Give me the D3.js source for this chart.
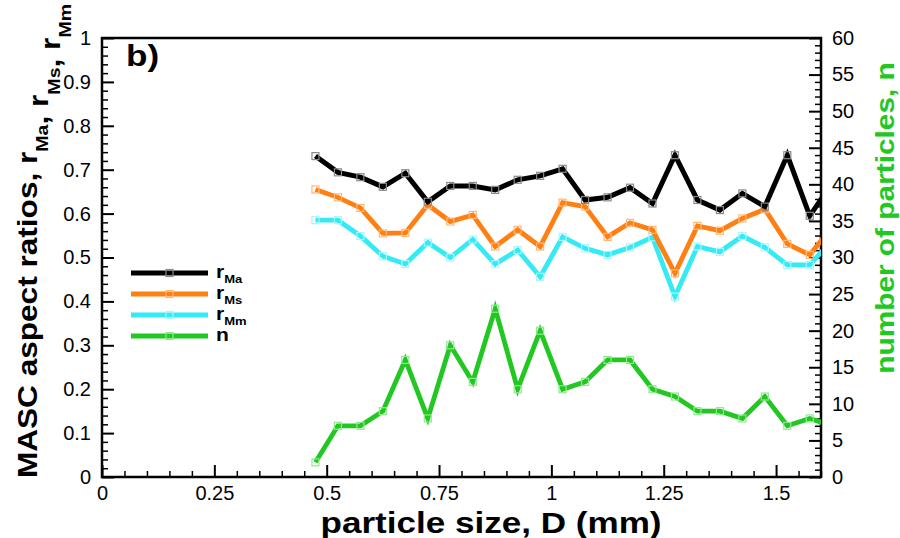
<!DOCTYPE html>
<html>
<head>
<meta charset="utf-8">
<script src="https://cdn.jsdelivr.net/npm/d3@7"></script>
<style>
  body { margin: 0; background: #fff; }
  svg { display: block; }
</style>
</head>
<body>
<script>
// particle size bins (mm)
const sizeD = [0.475, 0.525, 0.575, 0.625, 0.675, 0.725, 0.775, 0.825, 0.875, 0.925, 0.975, 1.025,
               1.075, 1.125, 1.175, 1.225, 1.275, 1.325, 1.375, 1.425, 1.475, 1.525, 1.575, 1.625]
const rMa = [0.731, 0.694, 0.683, 0.661, 0.692, 0.627, 0.663, 0.663, 0.654, 0.677, 0.686, 0.702,
             0.631, 0.637, 0.659, 0.623, 0.733, 0.631, 0.608, 0.646, 0.616, 0.733, 0.595, 0.67]
const rMs = [0.655, 0.637, 0.613, 0.555, 0.556, 0.620, 0.582, 0.597, 0.525, 0.563, 0.525, 0.625,
             0.616, 0.547, 0.579, 0.563, 0.464, 0.572, 0.561, 0.589, 0.610, 0.531, 0.506, 0.57]
const rMm = [0.585, 0.585, 0.549, 0.503, 0.485, 0.534, 0.500, 0.541, 0.485, 0.517, 0.456, 0.547,
             0.521, 0.506, 0.523, 0.546, 0.411, 0.525, 0.513, 0.549, 0.523, 0.483, 0.483, 0.54]
const nCount = [2, 7, 7, 9, 16, 8, 18, 13, 23, 12, 20, 12, 13, 16, 16, 12, 11, 9, 9, 8, 11, 7, 8, 7]

const xTicks = [0, 0.25, 0.5, 0.75, 1, 1.25, 1.5]
const xTickLabels = ['0', '0.25', '0.5', '0.75', '1', '1.25', '1.5']
const yTicks = [0, 0.1, 0.2, 0.3, 0.4, 0.5, 0.6, 0.7, 0.8, 0.9, 1]
const yTickLabels = ['0', '0.1', '0.2', '0.3', '0.4', '0.5', '0.6', '0.7', '0.8', '0.9', '1']
const nTicks = [0, 5, 10, 15, 20, 25, 30, 35, 40, 45, 50, 55, 60]

const width = 900
const height = 538
const plotL = 102, plotR = 821, plotT = 38, plotB = 477
const stretch = 1.17
const green = '#22c822'

const svg = d3.select('body').append('svg')
    .attr('width', width)
    .attr('height', height)

const x = d3.scaleLinear().domain([0, 1.6]).range([plotL, plotR])
const y = d3.scaleLinear().domain([0, 1]).range([plotB, plotT])
const yN = d3.scaleLinear().domain([0, 60]).range([plotB, plotT])

const series = [
    { values: rMa, scale: y, color: '#000000', mark: '#8a8a8a', width: 5 },
    { values: rMs, scale: y, color: '#ff7f12', mark: '#ffb774', width: 4.8 },
    { values: rMm, scale: y, color: '#33eaf5', mark: '#a8f6fb', width: 4.8 },
    { values: nCount, scale: yN, color: green, mark: '#8fe88f', width: 4.8 }
]

// minor ticks (no labels)
function minorTicks(step, max, majors) {
    return d3.range(0, Math.round(max / step) + 1).map(i => +(i * step).toFixed(4))
        .filter(v => !majors.some(m => Math.abs(m - v) < 1e-6))
}

function styleAxis(g, size) {
    g.select('.domain').remove()
    g.selectAll('line').attr('stroke', '#000').attr('stroke-width', size)
    g.selectAll('text').attr('fill', '#000')
        .attr('font-family', 'Liberation Sans, Arial, sans-serif')
        .attr('font-size', 20)
}

svg.append('g').attr('transform', 'translate(' + plotL + ',0)')
    .call(d3.axisLeft(y).tickValues(minorTicks(0.02, 1, yTicks)).tickSize(-6).tickFormat(''))
    .call(g => styleAxis(g, 1.5))
svg.append('g').attr('transform', 'translate(' + plotL + ',0)')
    .call(d3.axisLeft(y).tickValues(yTicks).tickSize(-12).tickPadding(11)
        .tickFormat((d, i) => yTickLabels[i]))
    .call(g => styleAxis(g, 2))

svg.append('g').attr('transform', 'translate(' + plotR + ',0)')
    .call(d3.axisRight(yN).tickValues(minorTicks(1, 60, nTicks)).tickSize(-6).tickFormat(''))
    .call(g => styleAxis(g, 1.5))
svg.append('g').attr('transform', 'translate(' + plotR + ',0)')
    .call(d3.axisRight(yN).tickValues(nTicks).tickSize(-12).tickPadding(11))
    .call(g => styleAxis(g, 2))

svg.append('g').attr('transform', 'translate(0,' + plotB + ')')
    .call(d3.axisBottom(x).tickValues(minorTicks(0.05, 1.6, xTicks)).tickSize(-6).tickFormat(''))
    .call(g => styleAxis(g, 1.5))
svg.append('g').attr('transform', 'translate(0,' + plotB + ')')
    .call(d3.axisBottom(x).tickValues(xTicks).tickSize(-12).tickPadding(9)
        .tickFormat((d, i) => xTickLabels[i]))
    .call(g => styleAxis(g, 2))

// frame
svg.append('rect')
    .attr('x', plotL).attr('y', plotT)
    .attr('width', plotR - plotL).attr('height', plotB - plotT)
    .attr('fill', 'none').attr('stroke', '#000').attr('stroke-width', 2.5)

svg.append('clipPath').attr('id', 'plot')
    .append('rect')
    .attr('x', plotL).attr('y', plotT)
    .attr('width', plotR - plotL).attr('height', plotB - plotT)

const plot = svg.append('g').attr('clip-path', 'url(#plot)')

// draw lines bottom-up so black is on top
series.slice().reverse().forEach(s => {
    const line = d3.line()
        .x((d, i) => x(sizeD[i]))
        .y(d => s.scale(d))
    plot.append('path')
        .datum(s.values)
        .attr('d', line)
        .attr('fill', 'none')
        .attr('stroke', s.color)
        .attr('stroke-width', s.width)
        .attr('stroke-linejoin', 'miter')
    plot.selectAll(null)
        .data(s.values)
        .enter().append('rect')
        .attr('x', (d, i) => x(sizeD[i]) - 3.5)
        .attr('y', d => s.scale(d) - 3.5)
        .attr('width', 7)
        .attr('height', 7)
        .attr('fill', 'none')
        .attr('stroke', s.mark)
        .attr('stroke-width', 1.2)
})

// text helper, glyphs are a bit wider than normal in the reference
function label(px, py, rot, anchor, size, color) {
    return svg.append('g')
        .attr('transform', 'translate(' + px + ',' + py + ') rotate(' + rot + ') scale(' + stretch + ',1)')
        .append('text')
        .attr('text-anchor', anchor)
        .attr('font-family', 'Liberation Sans, Arial, sans-serif')
        .attr('font-weight', 'bold')
        .attr('font-size', size)
        .attr('fill', color)
}

function addSub(t, main, sub, size, shift) {
    t.append('tspan').text(main)
    t.append('tspan').attr('font-size', size * 0.62).attr('dy', size * shift).text(sub)
    t.append('tspan').attr('dy', -size * shift).text('')
}

// left title
const yTitle = label(37, 241, -90, 'middle', 27, '#000')
yTitle.append('tspan').text('MASC aspect ratios, ')
addSub(yTitle, 'r', 'Ma', 27, 0.42)
yTitle.append('tspan').text(', ')
addSub(yTitle, 'r', 'Ms', 27, 0.42)
yTitle.append('tspan').text(', ')
addSub(yTitle, 'r', 'Mm', 27, 0.42)

// right title
label(894, 218, -90, 'middle', 25.5, green).text('number of particles, n')

// bottom title
label(491, 533, 0, 'middle', 30, '#000').text('particle size, D (mm)')

// panel letter
label(126, 66, 0, 'start', 30, '#000').text('b)')

// legend
const legendNames = ['r', 'r', 'r', 'n']
const legendSubs = ['Ma', 'Ms', 'Mm', '']
series.forEach((s, i) => {
    const ly = 273 + i * 21
    svg.append('line')
        .attr('x1', 131).attr('x2', 208)
        .attr('y1', ly).attr('y2', ly)
        .attr('stroke', s.color).attr('stroke-width', s.width)
    svg.append('rect')
        .attr('x', 166).attr('y', ly - 3.5)
        .attr('width', 7).attr('height', 7)
        .attr('fill', 'none').attr('stroke', s.mark).attr('stroke-width', 1.2)
    const t = label(216, ly + 5, 0, 'start', 18, '#000')
    addSub(t, legendNames[i], legendSubs[i], 18, 0.3)
})
</script>
</body>
</html>
